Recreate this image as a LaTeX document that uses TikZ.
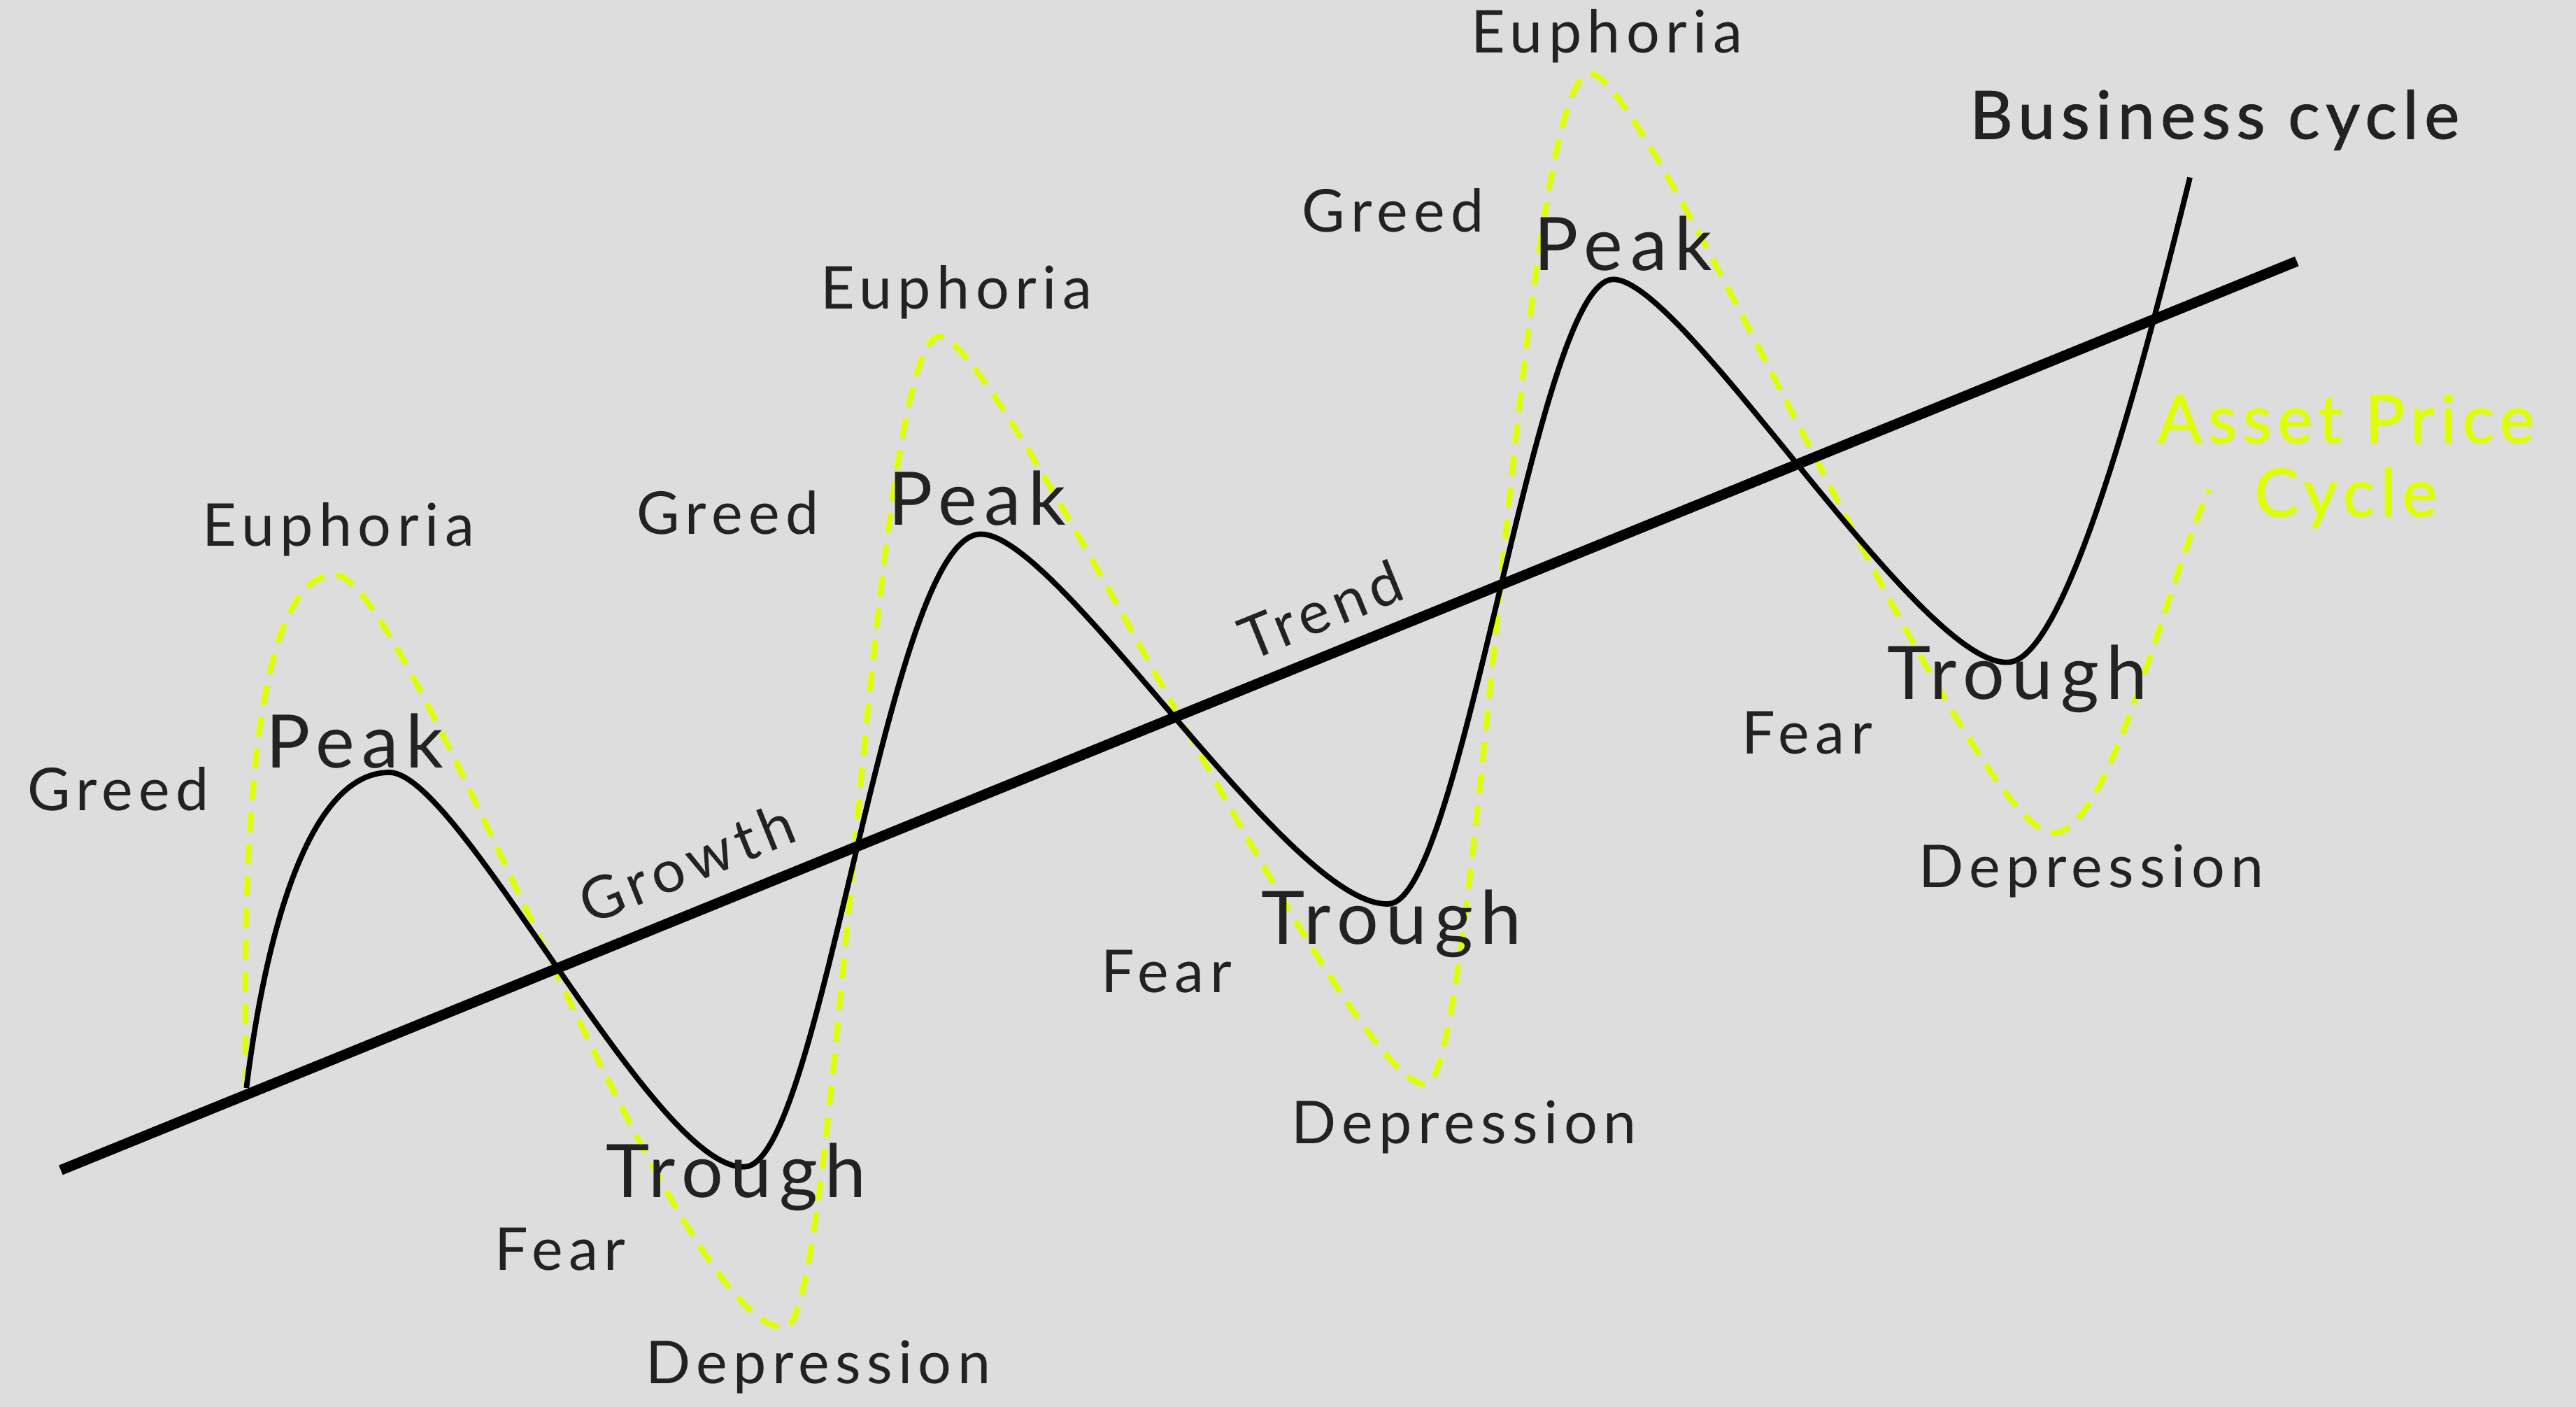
\documentclass[tikz,border=0pt]{standalone}
\usepackage{fontspec}
\setmainfont{Lato}
\newfontfamily\lblfont[LetterSpace=10]{Lato}
\newfontfamily\bigfont[LetterSpace=10]{Lato}
\newfontfamily\titlefont[LetterSpace=9,FakeBold=1.2]{Lato}
\definecolor{bg}{RGB}{221,221,221}
\definecolor{ink}{RGB}{34,34,34}
\definecolor{acid}{RGB}{223,255,0}
\tikzset{
  small/.style={font=\lblfont\fontsize{24}{27}\selectfont, text=ink, inner sep=0pt},
  big/.style={font=\bigfont\fontsize{30}{34}\selectfont, text=ink, inner sep=0pt},
  ttl/.style={font=\titlefont\fontsize{27}{31}\selectfont, inner sep=0pt},
  trendline/.style={line width=4.2pt, black},
  bizcurve/.style={line width=2.2pt, black, line join=round},
  assetcurve/.style={line width=2.3pt, acid, dash pattern=on 8pt off 5pt},
}
\begin{document}
\begin{tikzpicture}[x=0.2349mm, y=-0.2349mm]
\fill[bg] (0,0) rectangle (1568,856);
\useasboundingbox (0,0) rectangle (1568,856);

% asset price cycle (dashed)
\draw[assetcurve] (150,662)
  .. controls (147,510) and (155,350) .. (204,350)
  .. controls (250,350) and (410,810) .. (478,808)
  .. controls (510,808) and (530,205) .. (572,205)
  .. controls (610,205) and (820,662) .. (868,660)
  .. controls (900,660) and (925,45) .. (968,45)
  .. controls (1005,45) and (1200,509) .. (1250,507)
  .. controls (1285,507) and (1320,350) .. (1345,298);

% trend line
\coordinate (tA) at (37,712);
\coordinate (tB) at (1398,159);
\draw[trendline] (tA) -- (tB);

% business cycle
\draw[bizcurve] (150,662)
  .. controls (160,580) and (185,470) .. (237,470)
  .. controls (280,470) and (398,712) .. (453,710)
  .. controls (500,710) and (540,325) .. (597,325)
  .. controls (645,325) and (785,552) .. (845,550)
  .. controls (890,550) and (935,170) .. (982,170)
  .. controls (1025,170) and (1168,405) .. (1222,403)
  .. controls (1260,403) and (1310,200) .. (1333,108);

% labels
\node[small] (greed1) at (72,480) {Greed};
\node[small] (euph1) at (206,322) {Euphoria};
\node[big] (peak1) at (216,451) {Peak};
\node[big] (trough1) at (448,716) {Trough};
\node[small] (fear1) at (341,760) {Fear};
\node[small] (dep1) at (498,832) {Depression};

\node[small] (greed2) at (443,312) {Greed};
\node[small] (euph2) at (582,178) {Euphoria};
\node[big] (peak2) at (595,303) {Peak};
\node[big] (trough2) at (847,562) {Trough};
\node[small] (fear2) at (710,591) {Fear};
\node[small] (dep2) at (891,686) {Depression};

\node[small] (greed3) at (848,128) {Greed};
\node[small] (euph3) at (978,22) {Euphoria};
\node[big] (peak3) at (988,148) {Peak};
\node[big] (trough3) at (1228,413) {Trough};
\node[small] (fear3) at (1100,446) {Fear};
\node[small] (dep3) at (1273,530) {Depression};

\node[small, rotate=22] (growth) at (418,525) {Growth};
\node[small, rotate=22] (trend) at (804,371) {Trend};

\node[ttl, text=ink] (biz) at (1348,73) {Business cycle};
\node[ttl, text=acid] (asset1) at (1428,255) {Asset Price};
\node[ttl, text=acid] (asset2) at (1428,303) {Cycle};
\end{tikzpicture}
\end{document}
